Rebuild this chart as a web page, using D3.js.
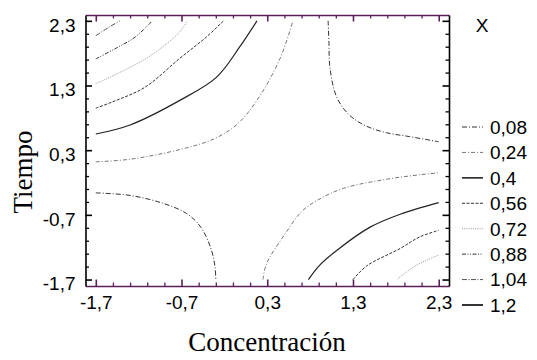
<!DOCTYPE html>
<html>
<head>
<meta charset="utf-8">
<script src="https://cdn.jsdelivr.net/npm/d3@7"></script>
<style>
  body { margin: 0; background: #fff; }
  svg { display: block; }
</style>
</head>
<body>
<svg></svg>
<script>
// contour levels shown in the legend
const levels = [0.08, 0.24, 0.4, 0.56, 0.72, 0.88, 1.04, 1.2];
const levelLabels = ['0,08', '0,24', '0,4', '0,56', '0,72', '0,88', '1,04', '1,2'];

const majorTicks = [-1.7, -0.7, 0.3, 1.3, 2.3];
const minorTicks = [-1.5, -1.3, -1.1, -0.9, -0.5, -0.3, -0.1, 0.1, 0.5, 0.7, 0.9, 1.1, 1.5, 1.7, 1.9, 2.1];

// contour lines, [concentracion, tiempo]
const c008TopRight = [[1.01, 2.3], [1.02, 1.95], [1.03, 1.59], [1.11, 1.12], [1.26, 0.84], [1.46, 0.67], [1.69, 0.57], [1.96, 0.51], [2.3, 0.43]];
const c008BottomLeft = [[-1.7, -0.36], [-1.3, -0.4], [-0.92, -0.52], [-0.64, -0.68], [-0.47, -0.9], [-0.35, -1.25], [-0.31, -1.5], [-0.3, -1.7]];
const c024TopLeft = [[-1.7, 0.12], [-1.3, 0.16], [-0.72, 0.31], [-0.33, 0.47], [-0.06, 0.69], [0.18, 1.07], [0.45, 1.72], [0.6, 2.3]];
const c024BottomRight = [[0.25, -1.7], [0.29, -1.46], [0.51, -0.99], [0.7, -0.65], [0.89, -0.47], [1.19, -0.29], [1.69, -0.15], [2.08, -0.08], [2.3, -0.05]];
const c040TopLeft = [[-1.7, 0.55], [-1.3, 0.69], [-0.72, 1.07], [-0.29, 1.43], [-0.02, 1.9], [0.18, 2.3]];
const c040BottomRight = [[0.78, -1.7], [0.91, -1.48], [1.11, -1.25], [1.5, -0.89], [1.85, -0.69], [2.3, -0.51]];
const c056TopLeft = [[-1.7, 0.95], [-1.5, 1.05], [-1.13, 1.27], [-0.72, 1.72], [-0.41, 2.05], [-0.21, 2.3]];
const c056BottomRight = [[1.3, -1.7], [1.46, -1.49], [1.85, -1.22], [2.08, -1.04], [2.3, -0.94]];
const c072TopLeft = [[-1.7, 1.33], [-1.5, 1.45], [-1.11, 1.72], [-0.87, 1.95], [-0.72, 2.13], [-0.63, 2.3]];
const c072BottomRight = [[1.82, -1.69], [2.04, -1.48], [2.3, -1.32]];
const c088TopLeft = [[-1.7, 1.71], [-1.46, 1.88], [-1.24, 2.05], [-1.04, 2.3]];
const c104TopLeft = [[-1.7, 2.07], [-1.56, 2.19], [-1.42, 2.3]];

const contourLines = [
  { level: 0.08, points: c008TopRight },
  { level: 0.08, points: c008BottomLeft },
  { level: 0.24, points: c024TopLeft },
  { level: 0.24, points: c024BottomRight },
  { level: 0.4, points: c040TopLeft },
  { level: 0.4, points: c040BottomRight },
  { level: 0.56, points: c056TopLeft },
  { level: 0.56, points: c056BottomRight },
  { level: 0.72, points: c072TopLeft },
  { level: 0.72, points: c072BottomRight },
  { level: 0.88, points: c088TopLeft },
  { level: 1.04, points: c104TopLeft }
];

// stroke style for each level
const styles = {
  0.08: { color: '#333', dash: '5,2,1,2', width: 1 },
  0.24: { color: '#777', dash: '4,2,1,2', width: 1 },
  0.4: { color: '#222', dash: null, width: 1.2 },
  0.56: { color: '#333', dash: '3,1.5', width: 1 },
  0.72: { color: '#999', dash: '1,1.2', width: 1 },
  0.88: { color: '#333', dash: '4,1.5,1,1.5,1,1.5', width: 1 },
  1.04: { color: '#555', dash: '5,1.5,1,1.5', width: 1 },
  1.2: { color: '#000', dash: null, width: 1.3 }
};

const width = 537;
const height = 360;
const purple = '#5c1f5c';
const sans = 'Liberation Sans, Arial, sans-serif';
const serif = 'Liberation Serif, Times New Roman, serif';

const svg = d3.select('svg').attr('width', width).attr('height', height);

const x = d3.scaleLinear().domain([-1.82, 2.42]).range([85.5, 449]);
const y = d3.scaleLinear().domain([-1.8, 2.39]).range([286, 15]);

const fmt = (d) => String(d).replace('.', ',');

// contours
const line = d3
  .line()
  .x((d) => x(d[0]))
  .y((d) => y(d[1]))
  .curve(d3.curveCatmullRom.alpha(0.5));

svg
  .append('g')
  .selectAll('path')
  .data(contourLines)
  .enter()
  .append('path')
  .attr('d', (d) => line(d.points))
  .attr('fill', 'none')
  .attr('stroke', (d) => styles[d.level].color)
  .attr('stroke-width', (d) => styles[d.level].width)
  .attr('stroke-dasharray', (d) => styles[d.level].dash);

// axes: minor and major ticks on all four sides, pointing inward
function drawAxis(axisFn, transform, color, withLabels) {
  const gMinor = svg
    .append('g')
    .attr('transform', transform)
    .call(axisFn.tickValues(minorTicks).tickSize(-3.5).tickSizeOuter(0).tickFormat(''));
  gMinor.selectAll('line').attr('stroke', color).attr('stroke-width', 1.3);
  gMinor.select('.domain').attr('stroke', color).attr('stroke-width', 1.6);

  const gMajor = svg
    .append('g')
    .attr('transform', transform)
    .call(
      axisFn
        .tickValues(majorTicks)
        .tickSize(-6.5)
        .tickSizeOuter(0)
        .tickPadding(withLabels ? 10 : 0)
        .tickFormat(withLabels ? fmt : '')
    );
  gMajor.select('.domain').remove();
  gMajor.selectAll('line').attr('stroke', color).attr('stroke-width', 1.6);
  gMajor
    .selectAll('text')
    .attr('fill', '#000')
    .style('font-family', sans)
    .style('font-size', '19px');
  return gMajor;
}

const gBottom = drawAxis(d3.axisBottom(x), 'translate(0,286)', purple, true);
gBottom.selectAll('text').attr('dy', '0.71em');
drawAxis(d3.axisTop(x), 'translate(0,15)', purple, false);
const gLeft = drawAxis(d3.axisLeft(y), 'translate(85.5,0)', '#000', true);
gLeft.selectAll('text').attr('dy', '0.55em');
drawAxis(d3.axisRight(y), 'translate(449,0)', '#000', false);

// axis titles
svg
  .append('text')
  .attr('x', 267)
  .attr('y', 351)
  .attr('text-anchor', 'middle')
  .style('font-family', serif)
  .style('font-size', '27px')
  .text('Concentración');

svg
  .append('text')
  .attr('transform', 'translate(32,172) rotate(-90)')
  .attr('text-anchor', 'middle')
  .style('font-family', serif)
  .style('font-size', '27px')
  .text('Tiempo');

// legend
const legend = svg.append('g');

legend
  .append('text')
  .attr('x', 482)
  .attr('y', 32)
  .attr('text-anchor', 'middle')
  .style('font-family', sans)
  .style('font-size', '19px')
  .text('X');

const legendY = d3.scalePoint().domain(levels).range([127, 305]);

const item = legend
  .selectAll('g.item')
  .data(levels)
  .enter()
  .append('g')
  .attr('class', 'item')
  .attr('transform', (d) => 'translate(0,' + legendY(d) + ')');

item
  .append('line')
  .attr('x1', 462)
  .attr('x2', 483)
  .attr('stroke', (d) => styles[d].color)
  .attr('stroke-width', (d) => (styles[d].dash ? 1 : 1.6))
  .attr('stroke-dasharray', (d) => styles[d].dash);

item
  .append('text')
  .attr('x', 490)
  .attr('dy', '0.36em')
  .style('font-family', sans)
  .style('font-size', '19px')
  .text((d, i) => levelLabels[i]);
</script>
</body>
</html>
